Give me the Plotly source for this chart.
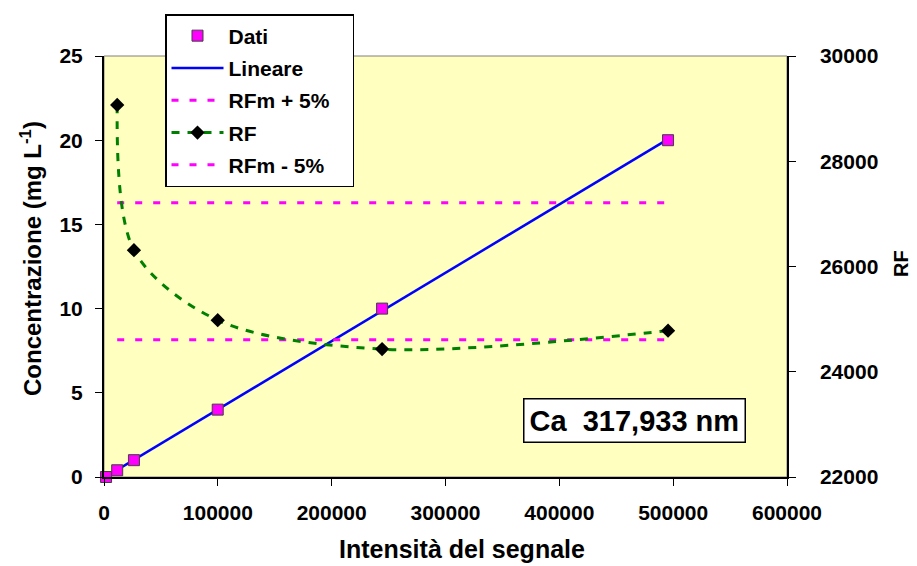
import numpy as np
import plotly.graph_objects as go

# Data
intensita = [1800, 11600, 26300, 99900, 244300, 495500]
concentrazione = [0, 0.4, 1, 4, 10, 20]
rf_x = [11600, 26300, 99900, 244300, 495500]
rf_vals = [29070, 26310, 24980, 24430, 24780]
rfm_plus = 27210
rfm_minus = 24610
label_text = "Ca&nbsp;&nbsp;317,933 nm"
x_title = "Intensità del segnale"
y_title = "Concentrazione (mg L<sup>-1</sup>)"
y2_title = "RF"

# linear trend
slope, intercept = np.polyfit(intensita, concentrazione, 1)
lin_x = [intensita[0], intensita[-1]]
lin_y = [slope * v + intercept for v in lin_x]

FONT = "Arial, Liberation Sans, sans-serif"
def f(size):
    return dict(family=FONT, size=size, color="black", weight="bold")
tick = f(21)

fig = go.Figure()
fig.add_trace(go.Scatter(x=lin_x, y=lin_y, mode="lines", name="Lineare",
                         line=dict(color="#0000FF", width=2.5), legendgroup="b", legendrank=2))
fig.add_trace(go.Scatter(x=intensita, y=concentrazione, mode="markers", name="Dati",
                         marker=dict(symbol="square", size=11, color="#FF00FF",
                                     line=dict(color="#404040", width=1)),
                         cliponaxis=False, legendgroup="a", legendrank=1))
fig.add_trace(go.Scatter(x=[rf_x[0], rf_x[-1]], y=[rfm_plus, rfm_plus], mode="lines",
                         name="RFm + 5%&nbsp;&nbsp;&nbsp;", yaxis="y2",
                         line=dict(color="#FF00FF", width=3, dash="7px,11px"), legendgroup="c", legendrank=3))
fig.add_trace(go.Scatter(x=[rf_x[0], rf_x[-1]], y=[rfm_minus, rfm_minus], mode="lines",
                         name="RFm - 5%", yaxis="y2",
                         line=dict(color="#FF00FF", width=3, dash="7px,11px"), legendgroup="e", legendrank=5))
fig.add_trace(go.Scatter(x=rf_x, y=rf_vals, mode="lines+markers", name="RF", yaxis="y2",
                         line=dict(color="#008000", width=3, dash="8px,8px", shape="spline", smoothing=0.9),
                         marker=dict(symbol="diamond", size=11, color="black"),
                         legendgroup="d", legendrank=4))

fig.update_layout(
    width=917, height=566,
    margin=dict(l=96, r=138, t=48, b=97, autoexpand=False),
    paper_bgcolor="white", plot_bgcolor="#FFFFC0",
    font=tick,
    showlegend=True,
    legend=dict(x=157 / 917, y=1 - 6 / 566, xref="container", yref="container",
                xanchor="left", yanchor="top",
                bgcolor="white", bordercolor="black", borderwidth=1.5,
                font=f(21),
                traceorder="grouped", tracegroupgap=2, itemwidth=52),
    xaxis=dict(range=[0, 600000], dtick=100000, tickformat="d", showgrid=False, zeroline=False,
               showline=True, linecolor="black", linewidth=2, ticks="outside", ticklen=7,
               tickcolor="black", tickfont=tick, ticklabelstandoff=9, automargin=False),
    yaxis=dict(range=[0, 25], dtick=5, showgrid=False, zeroline=False,
               showline=True, linecolor="black", linewidth=2, ticks="outside", ticklen=7,
               tickcolor="black", tickfont=tick, ticklabelstandoff=8, automargin=False),
    yaxis2=dict(range=[22000, 30000], dtick=2000, overlaying="y", side="right", showgrid=False,
                zeroline=False, showline=True, linecolor="black", linewidth=1.5, ticks="outside",
                ticklen=7, tickcolor="black", tickfont=tick, tickformat="d",
                ticklabelstandoff=20, automargin=False),
    shapes=[dict(type="rect", xref="paper", yref="paper", x0=0, x1=1, y0=0, y1=1,
                 line=dict(color="#808080", width=1), layer="below")],
    annotations=[
        dict(text=label_text, x=0.776, y=0.134, xref="paper", yref="paper",
             xanchor="center", yanchor="middle",
             showarrow=False, font=f(29),
             bgcolor="white", bordercolor="black", borderwidth=1.5, borderpad=5),
        dict(text=x_title, x=0.524, y=-0.171, xref="paper", yref="paper",
             xanchor="center", yanchor="middle",
             showarrow=False, font=f(25)),
        dict(text=y_title, x=-0.107, y=0.52, xref="paper", yref="paper", textangle=-90,
             xanchor="center", yanchor="middle",
             showarrow=False, font=f(24)),
        dict(text=y2_title, x=1.166, y=0.507, xref="paper", yref="paper", textangle=-90,
             xanchor="center", yanchor="middle",
             showarrow=False, font=f(20)),
    ],
)

fig.write_html("out.html")
